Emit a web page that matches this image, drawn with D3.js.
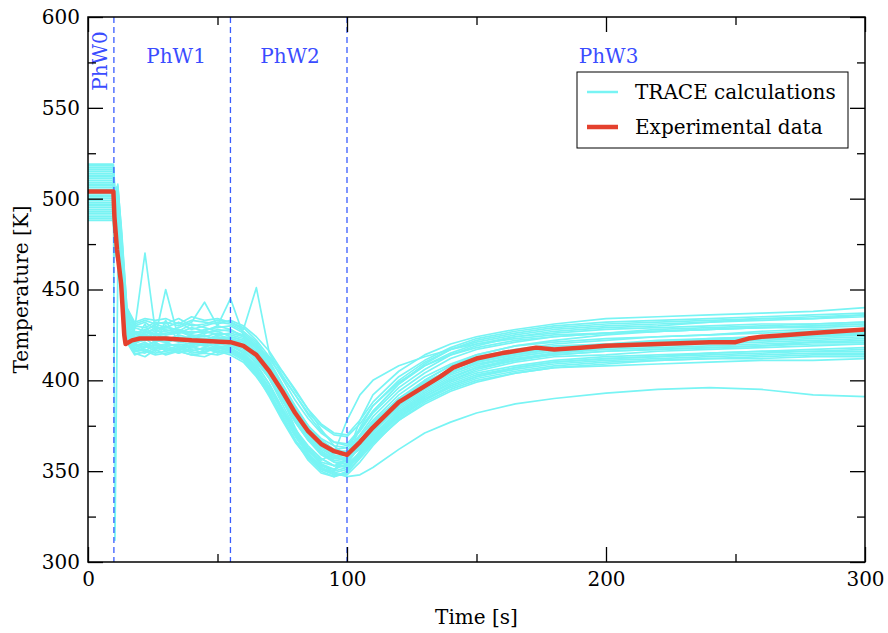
<!DOCTYPE html>
<html>
<head>
<meta charset="utf-8">
<script src="https://cdn.jsdelivr.net/npm/d3@7"></script>
<style>
  body { margin: 0; background: #fff; }
  svg { display: block; }
</style>
</head>
<body>
<svg id="chart" width="888" height="633"></svg>
<script>
// time grid shared by the TRACE runs [s]
const runTimes = [0, 9.8, 10.4, 11.5, 13, 15, 18, 22, 26, 30, 35, 40, 45, 50, 55, 60, 65, 70, 75, 80,
                  85, 90, 95, 100, 105, 110, 120, 130, 140, 150, 165, 180, 200, 220, 240, 260, 280, 300];

// TRACE calculations [K], one row per run
const runs = [
  [504,504,490,470,455,428,424,425,423,424,422,423,421,422,421,418,411,401,389,377,367,360,356,355,364,373,388,398,406,411,415,418,420,421,422,423,425,426],
  [518,518,500,508,480,440,430,432,428,430,427,431,429,427,428,424,419,412,402,392,381,372,366,364,372,382,396,406,414,419,424,427,429,430,432,433,434,436],
  [489,489,470,480,450,425,418,416,420,417,419,416,418,415,417,413,404,392,379,367,358,352,349,351,360,368,382,392,400,405,410,413,414,416,417,418,419,420],
  [510,510,312,460,470,435,428,470,427,429,428,426,428,429,430,426,420,410,397,385,375,367,362,363,373,383,398,408,415,420,424,426,428,429,430,431,431,432],
  [498,498,485,495,462,430,421,422,424,450,423,424,422,425,423,421,415,405,393,380,370,362,358,359,369,378,392,402,409,414,419,421,423,424,425,427,428,428],
  [514,514,495,502,470,432,426,428,430,427,429,432,443,430,445,425,418,406,390,374,360,351,350,358,378,392,405,414,420,424,428,431,434,435,436,437,438,440],
  [492,492,475,485,445,422,415,413,417,414,416,414,413,416,414,410,402,392,382,372,362,354,349,347,348,352,362,371,377,382,387,390,393,395,396,395,392,391],
  [507,507,488,496,458,428,422,425,421,423,421,420,422,421,420,417,409,398,384,371,361,355,353,356,366,376,390,399,405,409,412,414,416,417,418,419,421,422],
  [502,502,480,490,452,426,420,423,419,420,424,422,420,423,424,422,418,413,405,395,384,373,364,358,362,370,383,393,401,407,412,415,417,418,419,420,421,421],
  [516,516,498,505,476,436,430,429,432,431,434,430,431,433,432,428,451,415,403,392,382,375,370,369,376,386,400,410,417,421,425,428,430,431,432,434,435,436],
  [495,495,478,488,448,424,417,419,416,418,415,418,417,418,416,412,404,393,380,367,356,349,347,350,360,369,384,394,402,407,411,414,416,417,418,419,420,420],
  [511,511,493,500,466,433,425,427,425,426,427,425,424,426,425,423,416,407,395,382,372,365,360,359,367,376,390,400,408,413,417,420,422,424,425,426,427,427],
  [500,500,483,493,456,427,420,418,422,421,418,421,419,420,419,415,408,398,385,372,362,356,360,378,392,400,408,413,417,420,423,425,426,427,428,429,430,431],
  [506,506,490,498,460,430,423,424,426,422,425,423,425,422,423,420,414,404,391,378,368,360,355,352,358,366,380,390,397,402,406,409,411,412,413,414,415,415],
  [490,490,472,482,446,423,416,417,415,416,418,415,416,417,415,411,403,392,379,367,358,351,348,349,357,365,378,388,395,400,404,407,408,409,410,411,411,412],
  [517,517,502,506,478,438,431,433,431,432,430,433,432,431,433,430,424,416,405,394,384,376,371,370,378,388,402,411,418,423,427,430,432,433,434,435,436,437],
  [497,497,480,491,450,425,419,421,418,419,420,419,421,419,418,414,406,396,383,370,360,353,350,352,361,371,386,396,404,410,414,417,419,420,421,422,423,424],
  [509,509,491,499,464,431,424,426,428,425,426,427,426,428,427,425,419,410,398,386,375,367,362,360,366,374,388,397,404,409,413,416,418,419,420,421,422,423],
  [494,494,476,486,447,424,418,420,417,419,417,416,418,416,418,413,405,394,381,369,359,353,351,354,364,374,389,399,406,411,416,419,420,422,423,424,425,425],
  [513,513,497,503,472,434,427,426,429,428,426,429,427,430,428,424,417,408,396,383,371,363,358,356,363,371,385,395,403,408,413,416,418,420,421,423,424,425],
  [501,501,486,497,461,429,421,431,420,433,421,425,419,424,422,419,412,402,390,378,368,361,357,356,364,372,386,396,404,410,414,417,419,421,422,423,424,425],
  [515,515,499,504,474,437,429,427,431,429,432,428,430,432,431,427,421,411,398,385,374,366,361,361,370,380,394,404,412,417,421,424,426,428,429,430,431,432],
  [493,493,474,484,449,424,416,418,420,416,417,419,416,418,417,414,406,396,384,372,363,357,353,352,359,366,378,387,394,399,404,407,409,411,412,412,413,413],
  [505,505,487,497,459,429,423,422,425,424,422,424,423,424,422,419,412,401,387,373,362,354,351,357,374,386,399,408,414,418,422,424,426,427,428,429,429,430],
  [499,499,481,492,453,426,419,420,418,420,419,418,420,418,419,416,410,401,389,377,367,359,355,354,360,368,381,391,398,403,407,410,412,413,414,415,416,416],
  [512,512,494,501,468,433,426,425,427,427,428,426,427,425,426,424,418,409,397,385,375,368,364,363,369,377,390,399,406,411,415,418,420,421,423,424,425,426],
  [496,496,477,489,449,425,417,419,421,418,416,420,419,417,420,415,407,396,383,370,359,352,348,348,355,364,379,389,397,402,407,410,412,413,415,416,417,418],
  [508,508,489,497,463,430,424,423,426,425,427,424,426,427,424,422,415,405,392,379,369,361,357,357,365,374,389,400,408,414,419,422,425,427,428,429,430,431],
  [491,491,473,483,447,423,416,415,418,417,415,417,415,419,416,412,403,391,378,366,357,350,347,349,358,367,381,391,399,404,408,411,413,414,415,416,416,417],
  [503,503,484,494,457,427,421,424,422,421,423,421,423,420,421,418,413,404,393,382,372,364,359,357,362,369,382,392,400,406,411,415,418,420,422,424,426,427],
  [519,519,505,507,482,440,432,434,433,434,431,435,433,434,432,429,422,413,401,389,379,371,366,365,373,383,398,409,417,422,426,429,431,432,433,434,434,435],
  [488,488,468,478,444,421,414,416,414,415,416,414,415,414,416,412,405,395,384,373,364,357,353,353,360,367,380,389,396,401,405,408,410,411,412,413,414,414]
];

// experimental data
const expTimes = [0, 9.8, 10.2, 11.2, 12.8, 14, 14.5, 17, 20, 30, 40, 55, 60, 65, 70, 75, 80, 85, 90, 95, 100,
                  105, 110, 115, 120, 128, 136, 141, 150, 160, 173, 180, 190, 200, 220, 240, 245, 250, 255, 260,
                  270, 280, 290, 300];
const expTemps = [504, 504, 490, 472, 453, 425, 420, 422, 423, 423, 422, 421, 419, 414, 405, 394, 382, 372, 365, 361, 359,
                  366, 374, 381, 388, 395, 402, 407, 412, 415, 418, 417, 418, 419, 420, 421, 421, 421, 423, 424,
                  425, 426, 427, 428];

// phase boundaries and labels
const phaseLines = [10, 55, 100];
const phaseLabels = [
  {name: "PhW1", t: 34},
  {name: "PhW2", t: 78},
  {name: "PhW3", t: 201}
];

const xMajor = [0, 100, 200, 300];
const xMinor = [50, 150, 250];
const yMajor = [300, 350, 400, 450, 500, 550, 600];
const yMinor = [325, 375, 425, 475, 525, 575];

const width = 888, height = 633;
const margin = {top: 17, right: 23, bottom: 71, left: 88};
const iw = width - margin.left - margin.right;
const ih = height - margin.top - margin.bottom;
const font = "DejaVu Serif, serif";

const x = d3.scaleLinear().domain([0, 300]).range([0, iw]);
const y = d3.scaleLinear().domain([300, 600]).range([ih, 0]);

const svg = d3.select("#chart");
svg.append("defs").append("clipPath").attr("id", "clip")
    .append("rect").attr("width", iw).attr("height", ih);

const g = svg.append("g").attr("transform", `translate(${margin.left},${margin.top})`);

const line = d3.line().x(d => x(d[0])).y(d => y(d[1]));

// TRACE runs
const plot = g.append("g").attr("clip-path", "url(#clip)");
plot.append("g")
    .selectAll("path")
    .data(runs)
    .join("path")
    .attr("fill", "none")
    .attr("stroke", "#78f4f4")
    .attr("stroke-width", 1.7)
    .attr("stroke-linejoin", "round")
    .attr("d", r => line(r.map((v, i) => [runTimes[i], v])));

// phase separators
plot.selectAll("line.phase")
    .data(phaseLines)
    .join("line")
    .attr("class", "phase")
    .attr("x1", d => x(d)).attr("x2", d => x(d))
    .attr("y1", 0).attr("y2", ih)
    .attr("stroke", "#3a5cff")
    .attr("stroke-width", 1.3)
    .attr("stroke-dasharray", "6,4");

// experimental
plot.append("path")
    .attr("fill", "none")
    .attr("stroke", "#e4412e")
    .attr("stroke-width", 4.5)
    .attr("stroke-linejoin", "round")
    .attr("d", line(expTimes.map((t, i) => [t, expTemps[i]])));

// phase labels
g.selectAll("text.phl")
    .data(phaseLabels)
    .join("text")
    .attr("class", "phl")
    .attr("x", d => x(d.t))
    .attr("y", 46)
    .attr("text-anchor", "middle")
    .attr("fill", "#3a4cff")
    .style("font", `20px ${font}`)
    .text(d => d.name);

g.append("text")
    .attr("transform", `translate(${x(4.7)},${44}) rotate(-90)`)
    .attr("text-anchor", "middle")
    .attr("dy", "0.35em")
    .attr("fill", "#3a4cff")
    .style("font", `20px ${font}`)
    .text("PhW0");

// axes: ticks inside on all four sides
function styleAxis(sel) {
  sel.select(".domain").remove();
  sel.selectAll(".tick line").attr("stroke", "#000").attr("stroke-width", 1.3);
  sel.selectAll(".tick text").style("font", `20px ${font}`).attr("fill", "#000");
}

g.append("g").attr("transform", `translate(0,${ih})`)
    .call(d3.axisBottom(x).tickValues(xMajor).tickSize(-15).tickPadding(10).tickFormat(d3.format("d")))
    .call(styleAxis);
g.append("g").attr("transform", `translate(0,${ih})`)
    .call(d3.axisBottom(x).tickValues(xMinor).tickSize(-8).tickFormat(""))
    .call(styleAxis);
g.append("g")
    .call(d3.axisTop(x).tickValues(xMajor).tickSize(-15).tickFormat(""))
    .call(styleAxis);
g.append("g")
    .call(d3.axisTop(x).tickValues(xMinor).tickSize(-8).tickFormat(""))
    .call(styleAxis);

g.append("g")
    .call(d3.axisLeft(y).tickValues(yMajor).tickSize(-15).tickPadding(8).tickFormat(d3.format("d")))
    .call(styleAxis);
g.append("g")
    .call(d3.axisLeft(y).tickValues(yMinor).tickSize(-8).tickFormat(""))
    .call(styleAxis);
g.append("g").attr("transform", `translate(${iw},0)`)
    .call(d3.axisRight(y).tickValues(yMajor).tickSize(-15).tickFormat(""))
    .call(styleAxis);
g.append("g").attr("transform", `translate(${iw},0)`)
    .call(d3.axisRight(y).tickValues(yMinor).tickSize(-8).tickFormat(""))
    .call(styleAxis);

// frame
g.append("rect")
    .attr("width", iw).attr("height", ih)
    .attr("fill", "none")
    .attr("stroke", "#000")
    .attr("stroke-width", 1.5);

// axis titles
svg.append("text")
    .attr("x", margin.left + iw / 2)
    .attr("y", 624)
    .attr("text-anchor", "middle")
    .style("font", `20px ${font}`)
    .text("Time [s]");

svg.append("text")
    .attr("transform", `translate(28,${margin.top + ih / 2}) rotate(-90)`)
    .attr("text-anchor", "middle")
    .style("font", `20px ${font}`)
    .text("Temperature [K]");

// legend
const legend = svg.append("g").attr("transform", "translate(577,72)");
legend.append("rect")
    .attr("width", 271).attr("height", 76)
    .attr("fill", "#fff")
    .attr("stroke", "#000")
    .attr("stroke-width", 1);

const legendItems = [
  {label: "TRACE calculations", color: "#78f4f4", w: 2.5},
  {label: "Experimental data", color: "#e4412e", w: 4.5}
];
const li = legend.selectAll("g.item")
    .data(legendItems)
    .join("g")
    .attr("class", "item")
    .attr("transform", (d, i) => `translate(0,${20 + i * 35})`);
li.append("line")
    .attr("x1", 10).attr("x2", 41)
    .attr("stroke", d => d.color)
    .attr("stroke-width", d => d.w);
li.append("text")
    .attr("x", 58)
    .attr("dy", "0.35em")
    .style("font", `20px ${font}`)
    .text(d => d.label);
</script>
</body>
</html>
